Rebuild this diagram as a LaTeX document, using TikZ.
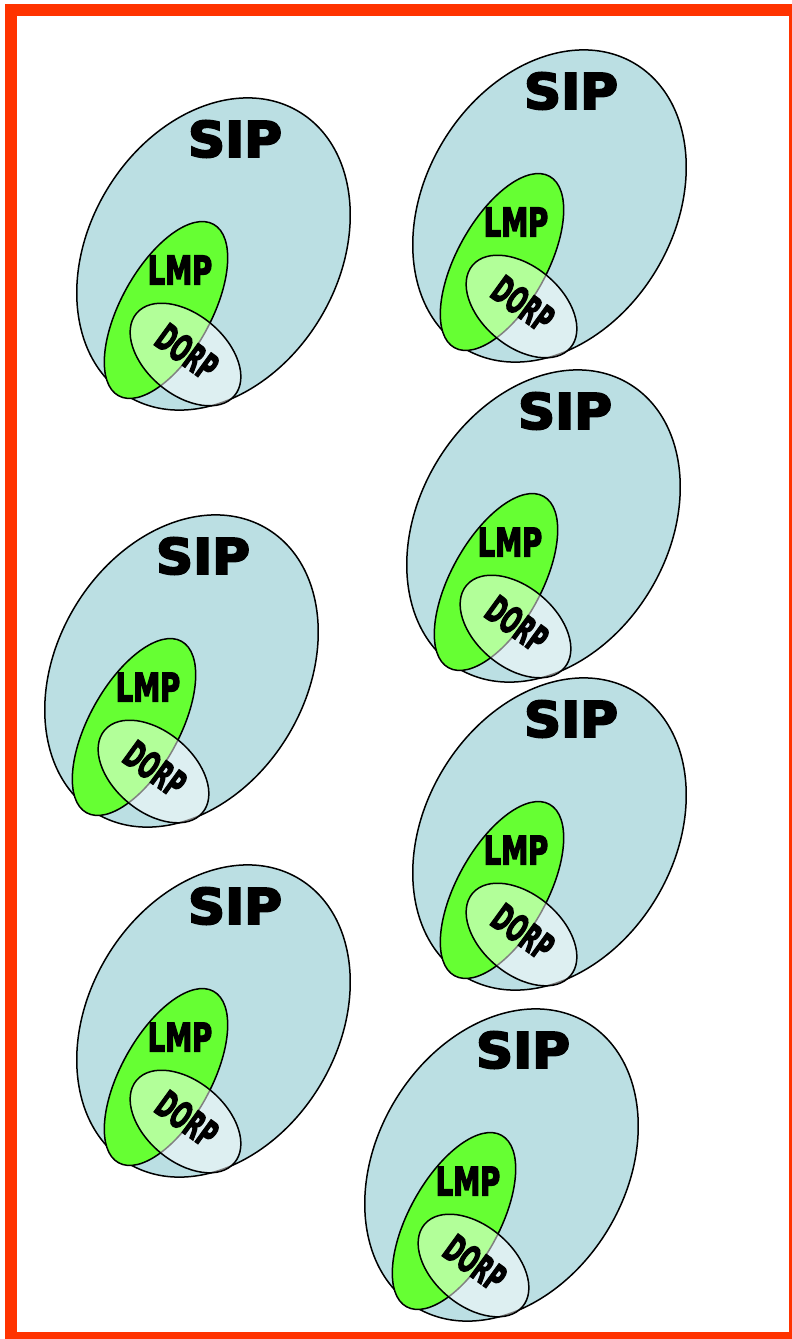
\documentclass[tikz,border=0pt]{standalone}
\usepackage{fontspec}
\usepackage{graphicx}
\usetikzlibrary{shapes.geometric}
\newfontfamily\lblfont{DejaVu Sans}[BoldFeatures={FakeBold=4}]
\newfontfamily\narrowfont{DejaVu Sans}[BoldFeatures={FakeBold=4}]
\definecolor{sipblue}{RGB}{187,223,227}
\definecolor{lmpgreen}{RGB}{102,255,51}
\definecolor{framered}{RGB}{255,51,0}
\tikzset{
  sipshape/.style={ellipse, draw=black, line width=1.5pt, fill=sipblue, inner sep=0pt, outer sep=0pt,
    minimum width=332pt, minimum height=249pt, rotate=59},
  lmpshape/.style={ellipse, draw=black, line width=1.5pt, fill=lmpgreen, inner sep=0pt, outer sep=0pt,
    minimum width=196pt, minimum height=90pt, rotate=61},
  dorpshape/.style={ellipse, draw=black, line width=1.5pt, fill=white, fill opacity=0.5, draw opacity=1,
    inner sep=0pt, outer sep=0pt, minimum width=128pt, minimum height=80pt, rotate=-40},
  siptext/.style={inner sep=0pt, font=\lblfont\bfseries\fontsize{49pt}{49pt}\selectfont},
  lmptext/.style={inner sep=0pt, font=\narrowfont\bfseries\fontsize{39pt}{39pt}\selectfont},
  dorptext/.style={inner sep=0pt, rotate=-36, font=\narrowfont\bfseries\fontsize{37pt}{37pt}\selectfont},
  frameline/.style={draw=framered, line width=12pt}
}
\begin{document}
\begin{tikzpicture}[x=1pt, y=-1pt]
  \useasboundingbox (0,0) rectangle (792,1339);
  \clip (0,0) rectangle (792,1339);
  \fill[white] (0,0) rectangle (792,1339);
  \foreach \i/\dx/\dy in {1/0/0, 2/336/-48, 3/330/272, 4/-32/417, 5/336/580, 6/0/767, 7/288/911}{
    \begin{scope}[shift={(\dx,\dy)}]
      \node[sipshape] (sip\i) at (213.5,254) {};
      \node[lmpshape] (lmp\i) at (166,310) {};
      \node[dorpshape] (dorp\i) at (185.5,354.5) {};
      \node[siptext] (sipl\i) at (235,139) {\scalebox{1.05}[1]{SIP}};
      \node[lmptext] (lmpl\i) at (180,270) {\scalebox{0.7}[1]{LMP}};
      \node[dorptext] (dorpl\i) at (187,352) {\scalebox{0.56}[1]{DORP}};
    \end{scope}
  }
  \draw[frameline] (11,10) rectangle (795,1338);
\end{tikzpicture}
\end{document}
